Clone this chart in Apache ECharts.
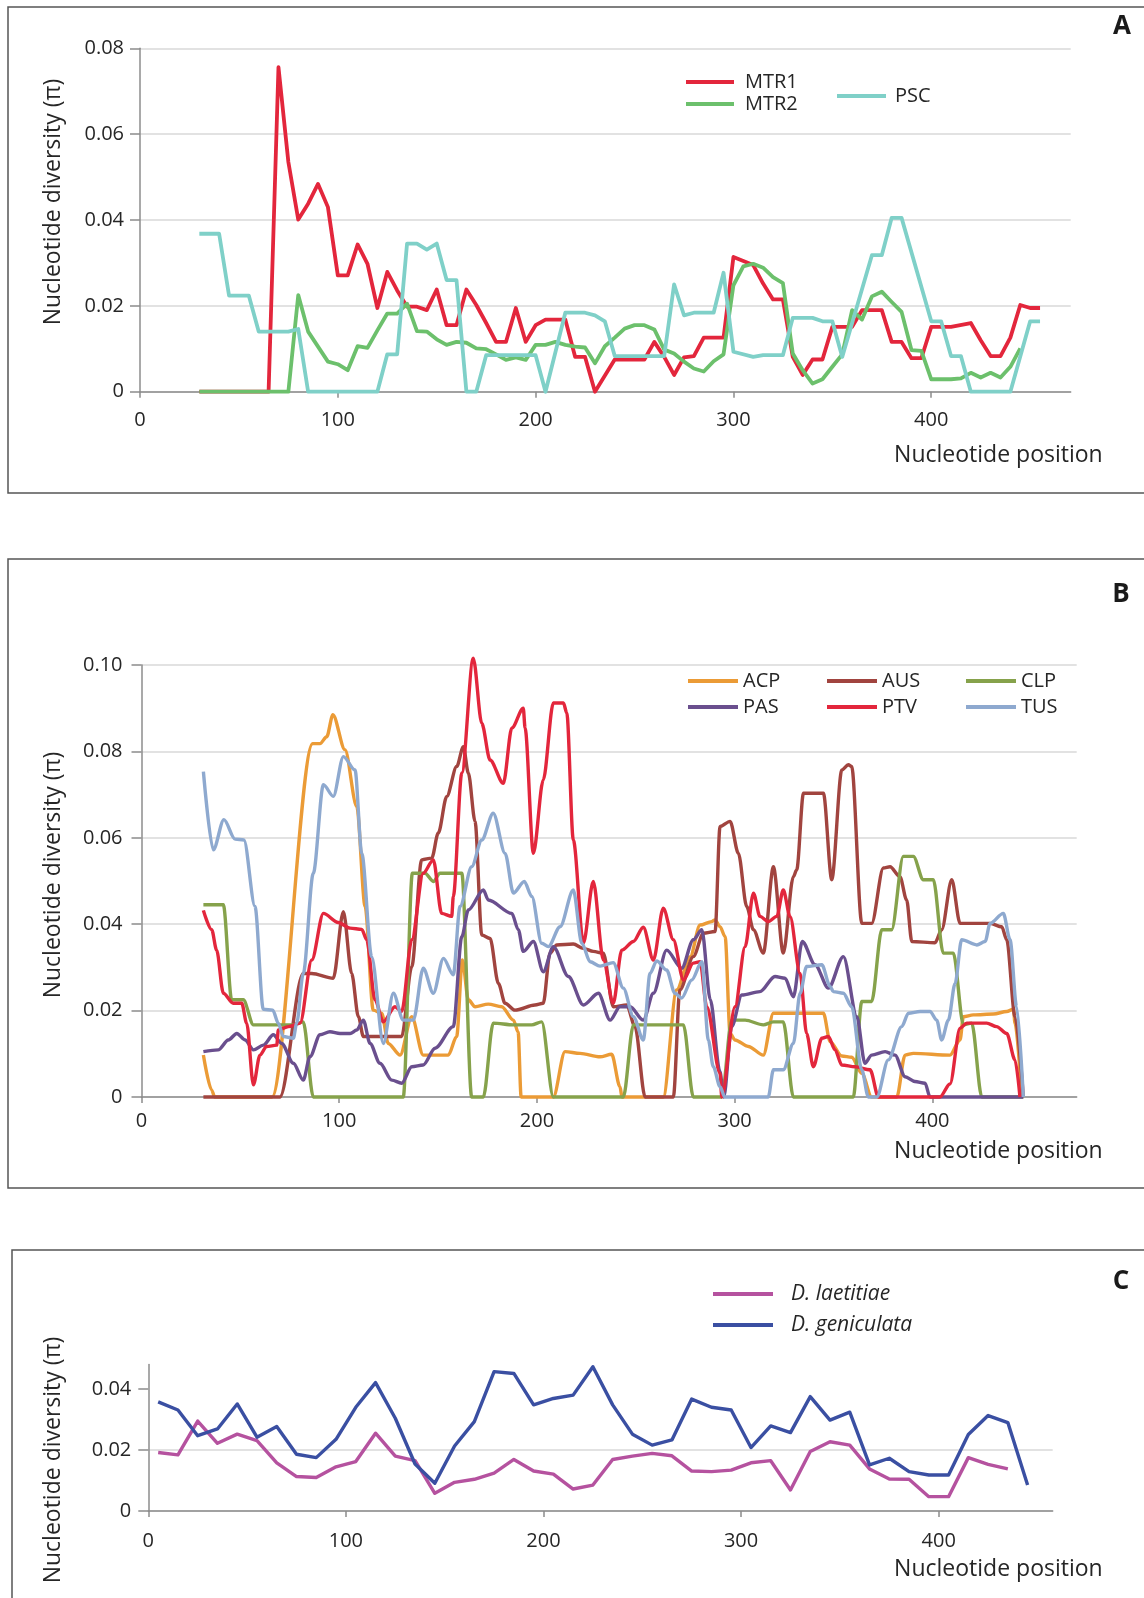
<!DOCTYPE html>
<html>
<head>
<meta charset="utf-8">
<title>Nucleotide diversity</title>
<script src="https://cdn.jsdelivr.net/npm/echarts@6/dist/echarts.min.js"></script>
<style>
  body { margin: 0; background: #fff; }
  #main { width: 1144px; height: 1598px; }
</style>
</head>
<body>
<div id="main"></div>
<script type="text/javascript">
// ---- panel A : [position, pi] ----
var mtr1 = [[30,0],[65,0],[70,0.0756],[75,0.0535],[80,0.0401],[85,0.0438],[90,0.0484],[95,0.043],[100,0.0271],[105,0.0271],[110,0.0343],[115,0.0298],[120,0.0195],[125,0.0279],[130,0.0236],[135,0.0198],[140,0.0198],[145,0.019],[150,0.0238],[155,0.0155],[160,0.0155],[165,0.0238],[170,0.0202],[175,0.016],[180,0.0116],[185,0.0116],[190,0.0195],[195,0.0116],[200,0.0155],[205,0.0168],[215,0.0168],[220,0.0081],[225,0.0081],[230,0],[240,0.0075],[255,0.0075],[260,0.0116],[265,0.0081],[270,0.0039],[275,0.008],[280,0.0083],[285,0.0126],[295,0.0126],[300,0.0314],[310,0.0295],[315,0.0252],[320,0.0215],[325,0.0215],[330,0.0081],[335,0.0039],[340,0.0075],[345,0.0075],[350,0.0151],[360,0.0151],[365,0.019],[375,0.019],[380,0.0116],[385,0.0116],[390,0.0078],[395,0.0078],[400,0.0151],[410,0.0151],[420,0.016],[425,0.012],[430,0.0083],[435,0.0083],[440,0.0126],[445,0.0202],[450,0.0195],[455,0.0195]];
var mtr2 = [[30,0],[75,0],[80,0.0225],[85,0.014],[90,0.0105],[95,0.007],[100,0.0064],[105,0.005],[110,0.0106],[115,0.0102],[120,0.0143],[125,0.0182],[130,0.0182],[135,0.0205],[140,0.0141],[145,0.014],[150,0.0122],[155,0.0109],[160,0.0116],[165,0.0114],[170,0.0101],[175,0.0099],[180,0.0087],[185,0.0074],[190,0.008],[195,0.0074],[200,0.0109],[205,0.0109],[210,0.0116],[215,0.0109],[220,0.0105],[225,0.0103],[230,0.0066],[235,0.0106],[240,0.0126],[245,0.0147],[250,0.0155],[255,0.0155],[260,0.0145],[265,0.0098],[270,0.0089],[275,0.007],[280,0.0054],[285,0.0047],[290,0.0071],[295,0.0087],[300,0.0248],[305,0.0292],[310,0.0298],[315,0.0289],[320,0.0267],[325,0.0253],[330,0.0089],[335,0.005],[340,0.0019],[345,0.0029],[350,0.0058],[355,0.0087],[360,0.019],[365,0.0168],[370,0.0222],[375,0.0233],[380,0.0209],[385,0.0186],[390,0.0097],[395,0.0095],[400,0.0029],[410,0.0029],[415,0.0031],[420,0.0044],[425,0.0033],[430,0.0044],[435,0.0033],[440,0.0058],[445,0.0101]];
var psc = [[30,0.0368],[40,0.0368],[45,0.0224],[55,0.0224],[60,0.014],[75,0.014],[80,0.0146],[85,0],[120,0],[125,0.0087],[130,0.0087],[135,0.0345],[140,0.0345],[145,0.0331],[150,0.0345],[155,0.026],[160,0.026],[165,0],[170,0],[175,0.0085],[200,0.0085],[205,0],[215,0.0184],[225,0.0184],[230,0.0178],[235,0.0164],[240,0.0083],[265,0.0083],[270,0.025],[275,0.0178],[280,0.0184],[290,0.0184],[295,0.0277],[300,0.0093],[310,0.0081],[315,0.0085],[325,0.0085],[330,0.0172],[340,0.0172],[345,0.0164],[350,0.0164],[355,0.0081],[370,0.0318],[375,0.0318],[380,0.0405],[385,0.0405],[400,0.0164],[405,0.0164],[410,0.0083],[415,0.0083],[420,0],[440,0],[450,0.0164],[455,0.0164]];

// ---- panel B ----
var acp = [[31.3,0.0097],[35.5,0.0016],[37,0],[66,0],[86.6,0.0818],[90.3,0.0818],[93.7,0.0834],[96.8,0.0885],[102.9,0.0804],[108.9,0.0672],[113.1,0.0441],[117.2,0.0201],[121.5,0.0194],[124.8,0.0124],[130.8,0.0097],[136.7,0.0186],[142.5,0.0097],[155.2,0.0097],[159.4,0.014],[162.3,0.0317],[165.3,0.0225],[168.7,0.0209],[175.4,0.0215],[182.2,0.0209],[188.1,0.0178],[190.5,0.015],[192,0],[208.3,0],[214.2,0.0105],[221.8,0.0101],[231.9,0.0093],[237.8,0.0099],[242,0.0024],[243,0],[263.9,0],[270.7,0.0248],[277.5,0.0325],[282.5,0.0398],[288.4,0.0406],[290.1,0.041],[292.6,0.0394],[295.2,0.0371],[297.7,0.0147],[300.2,0.0132],[306.9,0.0117],[314.5,0.0097],[319.6,0.0194],[344.9,0.0194],[348.3,0.0128],[354.2,0.0095],[359.2,0.0092],[364.3,0.0055],[369.3,0],[382,0],[386.2,0.0097],[390.4,0.0101],[408.9,0.0097],[414,0.0132],[415.7,0.0186],[420.7,0.019],[430.9,0.0192],[437.6,0.0198],[441,0.0203],[441.8,0.0171],[445.2,0]];
var aus = [[31.3,0],[70,0],[81.8,0.0286],[86.1,0.0286],[97,0.0275],[102.1,0.0429],[106.3,0.0286],[109.7,0.0186],[112.2,0.014],[131.6,0.014],[136.7,0.0302],[141.7,0.0549],[146.8,0.0553],[150.1,0.0611],[154.4,0.0696],[159.4,0.0765],[162.8,0.0811],[165.3,0.075],[168.7,0.0638],[172.1,0.0375],[176.3,0.0367],[180.5,0.0263],[183.9,0.0217],[188.9,0.0201],[199,0.0213],[203.2,0.0217],[206.6,0.0333],[210,0.0352],[218.4,0.0354],[223.5,0.0344],[228.5,0.0337],[233.6,0.0333],[238.6,0.0209],[245.4,0.0213],[249.6,0.0163],[254.7,0],[269,0],[272.3,0.0248],[279.1,0.0325],[284.2,0.0379],[290.1,0.0383],[292.6,0.0626],[297.7,0.0638],[301.9,0.0564],[306.1,0.0441],[309.5,0.0387],[314.5,0.0333],[319.6,0.0533],[324.6,0.0333],[329.7,0.051],[331.4,0.0526],[334.8,0.0703],[344.9,0.0703],[349.1,0.0503],[354.2,0.0757],[357.5,0.0769],[359.2,0.0765],[364.3,0.0402],[369.3,0.0402],[375.2,0.053],[378.6,0.0533],[383.6,0.051],[387,0.0456],[389.6,0.036],[401.3,0.0357],[404.7,0.0387],[409.8,0.0503],[414,0.0402],[429.2,0.0402],[435.1,0.0394],[437.6,0.0364],[441.8,0.0186],[446,0]];
var clp = [[31.3,0.0445],[41.4,0.0445],[45.6,0.0225],[51.5,0.0225],[56.6,0.0167],[76.8,0.0167],[81.8,0.0174],[86.9,0],[132.4,0],[137,0.0518],[143.4,0.0518],[147.6,0.0499],[151,0.0518],[162,0.0518],[167,0],[172.9,0],[177.9,0.0171],[188.1,0.0167],[197.4,0.0167],[202.4,0.0174],[208.3,0],[243.7,0],[248.8,0.0167],[274.1,0.0167],[279.1,0],[293.5,0],[298.5,0.0178],[305.3,0.0178],[314.5,0.0167],[319.6,0.0174],[324.6,0.0174],[329.7,0],[360,0],[364.3,0.0221],[369.3,0.0221],[374.4,0.0387],[379.4,0.0387],[385.3,0.0557],[390.4,0.0557],[395.4,0.0503],[400.5,0.0503],[405.5,0.0333],[410.6,0.0333],[415.7,0.0167],[419.9,0.0171],[425,0],[446,0]];
var pas = [[31.3,0.0105],[38.8,0.0109],[43.9,0.0132],[48.2,0.0147],[52.4,0.0132],[56.6,0.0109],[61.6,0.012],[66.7,0.0144],[70.9,0.0124],[76.8,0.0078],[81.8,0.0039],[85.2,0.0093],[90.3,0.0144],[95.3,0.0151],[100.4,0.0147],[105.5,0.0147],[108.9,0.0155],[112.2,0.0178],[115.6,0.0124],[120.6,0.0078],[126.6,0.0039],[131.6,0.0032],[136.7,0.007],[142.5,0.0074],[148.5,0.0113],[157.7,0.0163],[162,0.0371],[165.3,0.0433],[172.9,0.0479],[175.4,0.0456],[187.3,0.0425],[190.6,0.0387],[193.1,0.0337],[198.2,0.036],[203.2,0.029],[208.3,0.0348],[215.9,0.0279],[223.5,0.0213],[231.1,0.024],[237,0.0178],[242,0.0209],[247.1,0.0209],[253.8,0.0178],[258.9,0.024],[265.6,0.034],[273.2,0.0298],[279.1,0.0364],[283.4,0.0387],[287.7,0.0225],[292.5,0.006],[294.5,0],[298.5,0.0163],[303.6,0.0236],[312.8,0.0244],[320.4,0.0279],[325.5,0.0275],[329.7,0.0232],[334.2,0.036],[340.7,0.0306],[347.4,0.0252],[355,0.0325],[361.8,0.0186],[365.9,0.0078],[369.3,0.0097],[376.1,0.0105],[381.1,0.0097],[386.2,0.0047],[391.2,0.0036],[396.3,0.0032],[398.8,0],[446,0]];
var ptv = [[31.3,0.0432],[35.5,0.0387],[38,0.034],[41.4,0.024],[46.4,0.0217],[50.7,0.0217],[53.2,0.0171],[56.6,0.0028],[59.9,0.0097],[63.3,0.0117],[68.4,0.012],[69.2,0.0155],[74.3,0.0163],[80.2,0.0171],[86.1,0.0317],[92,0.0425],[99.5,0.0404],[105.5,0.0391],[111.4,0.0388],[113.9,0.0364],[118.1,0.0225],[122.3,0.0174],[128.2,0.0209],[131.6,0.0198],[136.7,0.0364],[142.5,0.0518],[147.6,0.0549],[151.8,0.0425],[156.9,0.0418],[157.7,0.0464],[162,0.075],[167.8,0.1016],[172.1,0.0865],[176.3,0.078],[183,0.0726],[187.3,0.0854],[193.1,0.09],[194,0.0854],[198.2,0.0564],[203.2,0.0734],[208.3,0.0912],[213.4,0.0912],[215.1,0.0889],[218.4,0.0595],[223.5,0.0356],[228.5,0.0499],[233.6,0.0317],[238.6,0.0217],[242.9,0.034],[248.8,0.036],[253.8,0.0393],[258.9,0.0317],[263.9,0.0437],[269,0.0364],[274.1,0.0271],[279.1,0.031],[282.5,0.0313],[285.9,0.0209],[292.6,0.0055],[293.5,0],[300.2,0.0209],[305.3,0.0348],[309.5,0.0472],[312.8,0.0418],[317,0.0406],[321.3,0.0418],[324.6,0.0479],[328,0.0418],[333.1,0.0286],[336.4,0.0147],[339.8,0.007],[344.1,0.0136],[347.4,0.014],[350.8,0.0109],[354.2,0.0074],[360.9,0.007],[368.5,0.0063],[372.7,0],[403.8,0],[408.9,0.003],[414,0.0159],[417.4,0.0171],[427.5,0.0171],[432.5,0.0163],[437.6,0.0147],[441.8,0.0086],[444.3,0]];
var tus = [[31.3,0.0753],[36.3,0.0572],[41.7,0.0642],[47.3,0.0597],[51.8,0.0595],[57.4,0.0441],[61.6,0.0203],[66.4,0.0201],[69.2,0.0171],[71.7,0.014],[76.8,0.0136],[78.5,0.0171],[81.8,0.0286],[86.9,0.0518],[92,0.0723],[97,0.0696],[102.1,0.0788],[108,0.0757],[111.4,0.0564],[116.4,0.0325],[122.3,0.0124],[127.4,0.024],[132.4,0.0178],[137.5,0.0178],[142.5,0.0298],[147.6,0.024],[152.7,0.0321],[157.7,0.0283],[161.1,0.0441],[167,0.0533],[172.1,0.0595],[177.9,0.0657],[183.9,0.0564],[188.1,0.0472],[193.6,0.0499],[197.4,0.0464],[202.4,0.0356],[205.8,0.0348],[211.7,0.0394],[218.4,0.0479],[222.7,0.0356],[226.9,0.0313],[231.9,0.0303],[238.6,0.0311],[243.7,0.0252],[248.8,0.0186],[253.8,0.0132],[257.2,0.0286],[260.6,0.0315],[265.6,0.0294],[269.8,0.024],[273.2,0.0229],[278.3,0.0271],[283.4,0.0313],[286.7,0.0132],[289.2,0.007],[292.6,0.0024],[295,0],[317,0],[319.6,0.0063],[324.6,0.0063],[329.7,0.0124],[333.1,0.024],[336.4,0.0302],[344.1,0.0306],[348.3,0.0256],[349.9,0.0244],[355,0.024],[359.2,0.0209],[364.3,0.0063],[367.6,0],[371.9,0],[377.7,0.0086],[384.5,0.0163],[387.9,0.0194],[393.8,0.0198],[398.8,0.0198],[402.2,0.0178],[404.7,0.0132],[408.1,0.0178],[411.5,0.0263],[414.8,0.0364],[422.5,0.0352],[426.7,0.036],[429.2,0.0402],[435.9,0.0425],[439.3,0.0364],[442.6,0.0209],[446,0]];

// ---- panel C ----
var posC = [5,15,25,35,45,55,65,75,85,95,105,115,125,135,145,155,165,175,185,195,205,215,225,235,245,255,265,275,285,295,305,315,325,335,345,355,365,375,385,395,405,415,425,435,445];
var laetitiae = [0.0192,0.0184,0.0295,0.0222,0.0252,0.0231,0.0158,0.0113,0.011,0.0145,0.0162,0.0255,0.018,0.0165,0.0058,0.0094,0.0104,0.0124,0.0169,0.0131,0.0121,0.0072,0.0085,0.0169,0.018,0.0189,0.0181,0.0131,0.0129,0.0134,0.0158,0.0165,0.0069,0.0195,0.0227,0.0216,0.0138,0.0105,0.0104,0.0047,0.0047,0.0175,0.0153,0.0138];
var geniculata = [0.0358,0.0331,0.0247,0.0269,0.0351,0.0242,0.0277,0.0186,0.0175,0.0235,0.034,0.0421,0.0304,0.0154,0.0091,0.0213,0.0293,0.0457,0.0451,0.0348,0.0369,0.038,0.0473,0.0348,0.0252,0.0216,0.0233,0.0367,0.034,0.0331,0.0208,0.0279,0.0257,0.0375,0.0298,0.0324,0.0151,0.0173,0.0129,0.0118,0.0118,0.0251,0.0313,0.029,0.0085];

var xTicks = [0, 100, 200, 300, 400];
var yTicksC = [0, 0.02, 0.04];

var FONT = 'Open Sans';
var TXT = '#262626';
var AXIS = '#8c8c8c';
var GRIDLINE = '#d9d9d9';

var myChart = echarts.init(document.getElementById('main'));

function pairs(xs, ys) {
  return ys.map(function (v, i) { return [xs[i], v]; });
}

function xAx(gi, max, gap, pad, margin) {
  return {
    type: 'value', gridIndex: gi, min: 0, max: max, interval: 100,
    name: 'Nucleotide position', nameLocation: 'end', nameGap: gap,
    nameTextStyle: { fontFamily: FONT, fontSize: 23, color: TXT, align: 'right', verticalAlign: 'top', padding: [pad, 0, 0, 0] },
    axisLine: { show: true, onZero: false, lineStyle: { color: AXIS, width: 1.5 } },
    axisTick: { show: true, length: 6, customValues: xTicks, lineStyle: { color: AXIS, width: 1.5 } },
    axisLabel: { customValues: xTicks, margin: margin, fontFamily: FONT, fontSize: 20, color: TXT },
    splitLine: { show: false }
  };
}

function yAx(gi, max, margin, hideMax) {
  var o = {
    type: 'value', gridIndex: gi, min: 0, max: max, interval: 0.02,
    axisLine: { show: true, lineStyle: { color: AXIS, width: 1.5 } },
    axisTick: { show: true, length: 10, lineStyle: { color: AXIS, width: 1.5 } },
    axisLabel: {
      margin: margin, fontFamily: FONT, fontSize: 20, color: TXT,
      formatter: function (v) { return v === 0 ? '0' : v.toFixed(2); }
    },
    splitLine: { show: true, lineStyle: { color: GRIDLINE, width: 1.5 } }
  };
  if (hideMax) {
    o.axisTick.customValues = yTicksC;
    o.axisLabel.customValues = yTicksC;
    o.splitLine.showMaxLine = false;
  }
  return o;
}

function line(name, data, color, gi, width, smooth) {
  return {
    name: name, type: 'line', xAxisIndex: gi, yAxisIndex: gi,
    data: data, symbol: 'none', smooth: smooth || false, clip: false,
    smoothMonotone: smooth ? 'x' : undefined,
    lineStyle: { color: color, width: width, join: 'round' },
    itemStyle: { color: color }
  };
}

function leg(names, left, top, orient, iw, gap, extra) {
  var ts = { fontFamily: FONT, fontSize: 20, color: TXT, lineHeight: 22 };
  for (var k in extra) ts[k] = extra[k];
  return {
    data: names, left: left, top: top, orient: orient, icon: 'rect',
    itemWidth: iw, itemHeight: 4, itemGap: gap, padding: 0,
    selectedMode: false, textStyle: ts
  };
}

var option = {
  animation: false,
  grid: [
    { left: 140, right: 73.3, top: 48.3, bottom: 1206.3 },
    { left: 141.5, right: 67.3, top: 665, bottom: 501 },
    { left: 148.3, right: 91.3, top: 1364.6, bottom: 87 }
  ],
  xAxis: [
    xAx(0, 470.5, 32, 52, 19),
    xAx(1, 473, 26, 43, 14),
    xAx(2, 457.7, 50, 47, 20)
  ],
  yAxis: [
    yAx(0, 0.08, 16, false),
    yAx(1, 0.10, 19, false),
    yAx(2, 0.048, 17, true)
  ],
  legend: [
    leg(['MTR1', 'MTR2'], 686, 71, 'vertical', 48, 0, { padding: [0, 0, 0, 6] }),
    leg(['PSC'], 837, 85, 'vertical', 49, 0, { padding: [0, 0, 0, 4] }),
    leg(['ACP', 'AUS', 'CLP'], 688, 670, 'horizontal', 50, 4, { width: 80 }),
    leg(['PAS', 'PTV', 'TUS'], 688, 696, 'horizontal', 50, 4, { width: 80 }),
    leg(['D. laetitiae', 'D. geniculata'], 713, 1283, 'vertical', 60, 9, { fontStyle: 'italic', fontSize: 21, padding: [0, 0, 0, 13] })
  ],
  series: [
    line('MTR1', mtr1, '#e3263c', 0, 3.8),
    line('MTR2', mtr2, '#6cc06c', 0, 3.8),
    line('PSC', psc, '#7fd0c8', 0, 3.8),
    line('ACP', acp, '#eb9b36', 1, 3.4, 0.3),
    line('AUS', aus, '#a1443f', 1, 3.4, 0.3),
    line('CLP', clp, '#86a24b', 1, 3.4, 0.3),
    line('PAS', pas, '#6a4f8e', 1, 3.4, 0.3),
    line('PTV', ptv, '#e3263c', 1, 3.4, 0.3),
    line('TUS', tus, '#8ea9cf', 1, 3.4, 0.3),
    line('D. laetitiae', pairs(posC, laetitiae), '#b5529f', 2, 3.4),
    line('D. geniculata', pairs(posC, geniculata), '#3a4fa2', 2, 3.4)
  ],
  graphic: [
    { type: 'rect', silent: true, z: -10, shape: { x: 8, y: 7, width: 1150, height: 486 }, style: { fill: 'none', stroke: '#555', lineWidth: 1.5 } },
    { type: 'rect', silent: true, z: -10, shape: { x: 8, y: 559, width: 1150, height: 629 }, style: { fill: 'none', stroke: '#555', lineWidth: 1.5 } },
    { type: 'rect', silent: true, z: -10, shape: { x: 12, y: 1250, width: 1150, height: 400 }, style: { fill: 'none', stroke: '#555', lineWidth: 1.5 } },
    { type: 'text', x: 1122, y: 27, style: { text: 'A', fontFamily: FONT, fontWeight: 'bold', fontSize: 26, fill: '#1a1a1a', align: 'center', verticalAlign: 'middle' } },
    { type: 'text', x: 1121, y: 595, style: { text: 'B', fontFamily: FONT, fontWeight: 'bold', fontSize: 26, fill: '#1a1a1a', align: 'center', verticalAlign: 'middle' } },
    { type: 'text', x: 1121, y: 1282, style: { text: 'C', fontFamily: FONT, fontWeight: 'bold', fontSize: 26, fill: '#1a1a1a', align: 'center', verticalAlign: 'middle' } },
    { type: 'text', x: 53, y: 202, rotation: Math.PI / 2, style: { text: 'Nucleotide diversity (π)', fontFamily: FONT, fontSize: 23, fill: TXT, align: 'center', verticalAlign: 'middle' } },
    { type: 'text', x: 53, y: 875, rotation: Math.PI / 2, style: { text: 'Nucleotide diversity (π)', fontFamily: FONT, fontSize: 23, fill: TXT, align: 'center', verticalAlign: 'middle' } },
    { type: 'text', x: 53, y: 1460, rotation: Math.PI / 2, style: { text: 'Nucleotide diversity (π)', fontFamily: FONT, fontSize: 23, fill: TXT, align: 'center', verticalAlign: 'middle' } }
  ]
};

myChart.setOption(option);
</script>
</body>
</html>
